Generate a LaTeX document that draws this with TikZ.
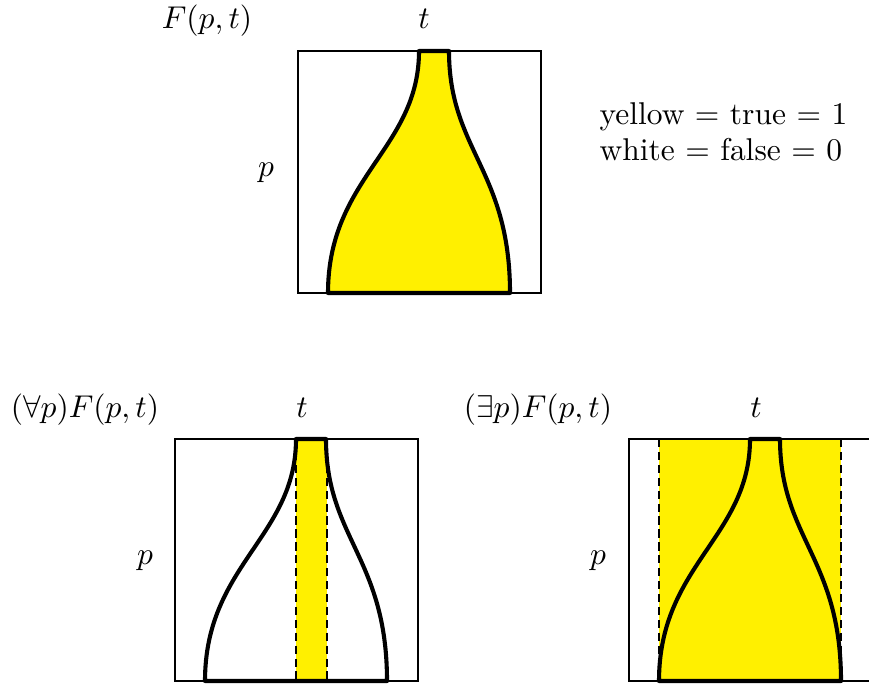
\documentclass[tikz,border=0pt]{standalone}
\begin{document}
\begin{tikzpicture}[x=0.3175pt,y=-0.3175pt,
  boxline/.style={line width=0.9pt},
  bottle/.style={line width=1.3pt, line join=round},
  dashline/.style={line width=0.6pt, dash pattern=on 2.6pt off 1.5pt},
  lbl/.style={anchor=base, inner sep=0pt}]
\definecolor{truey}{RGB}{255,240,0}
\useasboundingbox (0,0) rectangle (869,685);
\clip (0,0) rectangle (869,685);
\def\bottlepath{(121,0) -- (151,0) .. controls (151,99) and (212,119) .. (212,242) -- (30,242) .. controls (30,126) and (121,98) .. (121,0) -- cycle}
% top
\begin{scope}[shift={(298,51)}]
  \fill[truey] \bottlepath;
  \draw[boxline] (0,0) rectangle (243,242);
  \draw[bottle] \bottlepath;
\end{scope}
\node[lbl] (Ftop) at (207,28) {$F(p,t)$};
\node[lbl] (ttop) at (424,28) {$t$};
\node[lbl] (ptop) at (266,176) {$p$};
\node[lbl, anchor=base west] (leg1) at (599,124) {yellow = true = 1};
\node[lbl, anchor=base west] (leg2) at (599,160) {white = false = 0};
% bottom left
\begin{scope}[shift={(175,439)}]
  \fill[truey] (121,0) rectangle (152,242);
  \draw[dashline] (121,0) -- (121,242);
  \draw[dashline] (152,0) -- (152,242);
  \draw[boxline] (0,0) rectangle (243,242);
  \draw[bottle] \bottlepath;
\end{scope}
\node[lbl] (Fall) at (85,417) {$(\forall p)F(p,t)$};
\node[lbl] (tall) at (302,417) {$t$};
\node[lbl] (pall) at (145,564) {$p$};
% bottom right
\begin{scope}[shift={(629,439)}]
  \fill[truey] (30,0) rectangle (212,242);
  \draw[dashline] (30,0) -- (30,242);
  \draw[dashline] (212,0) -- (212,242);
  \draw[boxline] (0,0) rectangle (243,242);
  \draw[bottle] \bottlepath;
\end{scope}
\node[lbl] (Fex) at (538,417) {$(\exists p)F(p,t)$};
\node[lbl] (tex) at (756,417) {$t$};
\node[lbl] (pex) at (598,564) {$p$};
\end{tikzpicture}
\end{document}
